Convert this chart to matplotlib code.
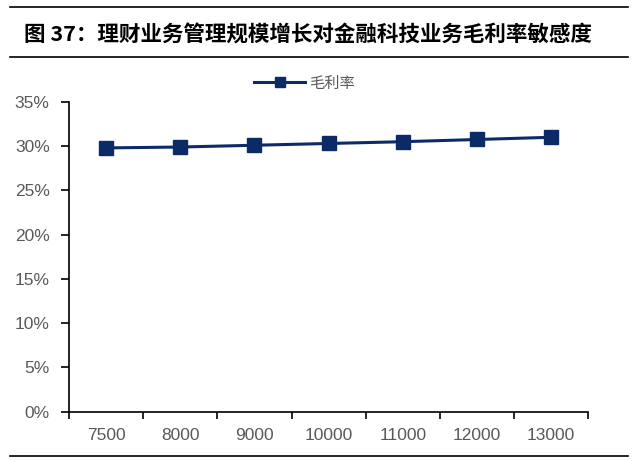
import matplotlib.pyplot as plt
import numpy as np
from matplotlib.ticker import PercentFormatter

plt.rcParams['font.family'] = ['Liberation Sans', 'Noto Sans CJK SC', 'DejaVu Sans']

# 数据
categories = ['7500', '8000', '9000', '10000', '11000', '12000', '13000']
margin = [29.8, 29.9, 30.1, 30.3, 30.5, 30.75, 31.0]
yticks = [0, 5, 10, 15, 20, 25, 30, 35]

navy = '#0b2a66'
gray = '#595959'

fig = plt.figure(figsize=(6.4, 4.61), dpi=100)

# 标题和横线
fig.text(0.038, 0.925, '图 37：理财业务管理规模增长对金融科技业务毛利率敏感度',
         fontsize=15.5, fontweight='bold', family=['Noto Sans CJK SC'],
         va='center', ha='left')
for yy in [0.985, 0.877, 0.011]:
    fig.add_artist(plt.Line2D([0.016, 0.982], [yy, yy], color='black', lw=1.2))

ax = fig.add_axes([0.108, 0.107, 0.811, 0.672])
x = np.arange(len(categories))
ax.plot(x, margin, color=navy, lw=2.2, marker='s', markersize=10,
        markerfacecolor=navy, markeredgecolor=navy, label='毛利率')

ax.set_xlim(-0.5, len(categories) - 0.5)
ax.set_ylim(0, 35)
ax.set_yticks(yticks)
ax.yaxis.set_major_formatter(PercentFormatter(decimals=0))

# 类别轴：刻度在边界，标签在中间
ax.set_xticks(np.arange(-0.5, len(categories)), labels=[])
ax.set_xticks(x, labels=categories, minor=True)
ax.tick_params(axis='x', which='major', length=5, width=1.2, direction='out')
ax.tick_params(axis='x', which='minor', length=0, pad=12, labelsize=12.5, labelcolor=gray)
ax.tick_params(axis='y', length=6, width=1.2, direction='out', labelsize=12.5,
               labelcolor=gray, pad=8)

for s in ['top', 'right']:
    ax.spines[s].set_visible(False)
for s in ['left', 'bottom']:
    ax.spines[s].set_linewidth(1.2)

leg = ax.legend(loc='center', bbox_to_anchor=(0.454, 1.06), frameon=False,
                fontsize=11, handlelength=3.3, handletextpad=0.3, markerscale=0.75)
for t in leg.get_texts():
    t.set_color(gray)
    t.set_family(['Noto Sans CJK SC'])

fig.savefig('out.png', dpi=100)
